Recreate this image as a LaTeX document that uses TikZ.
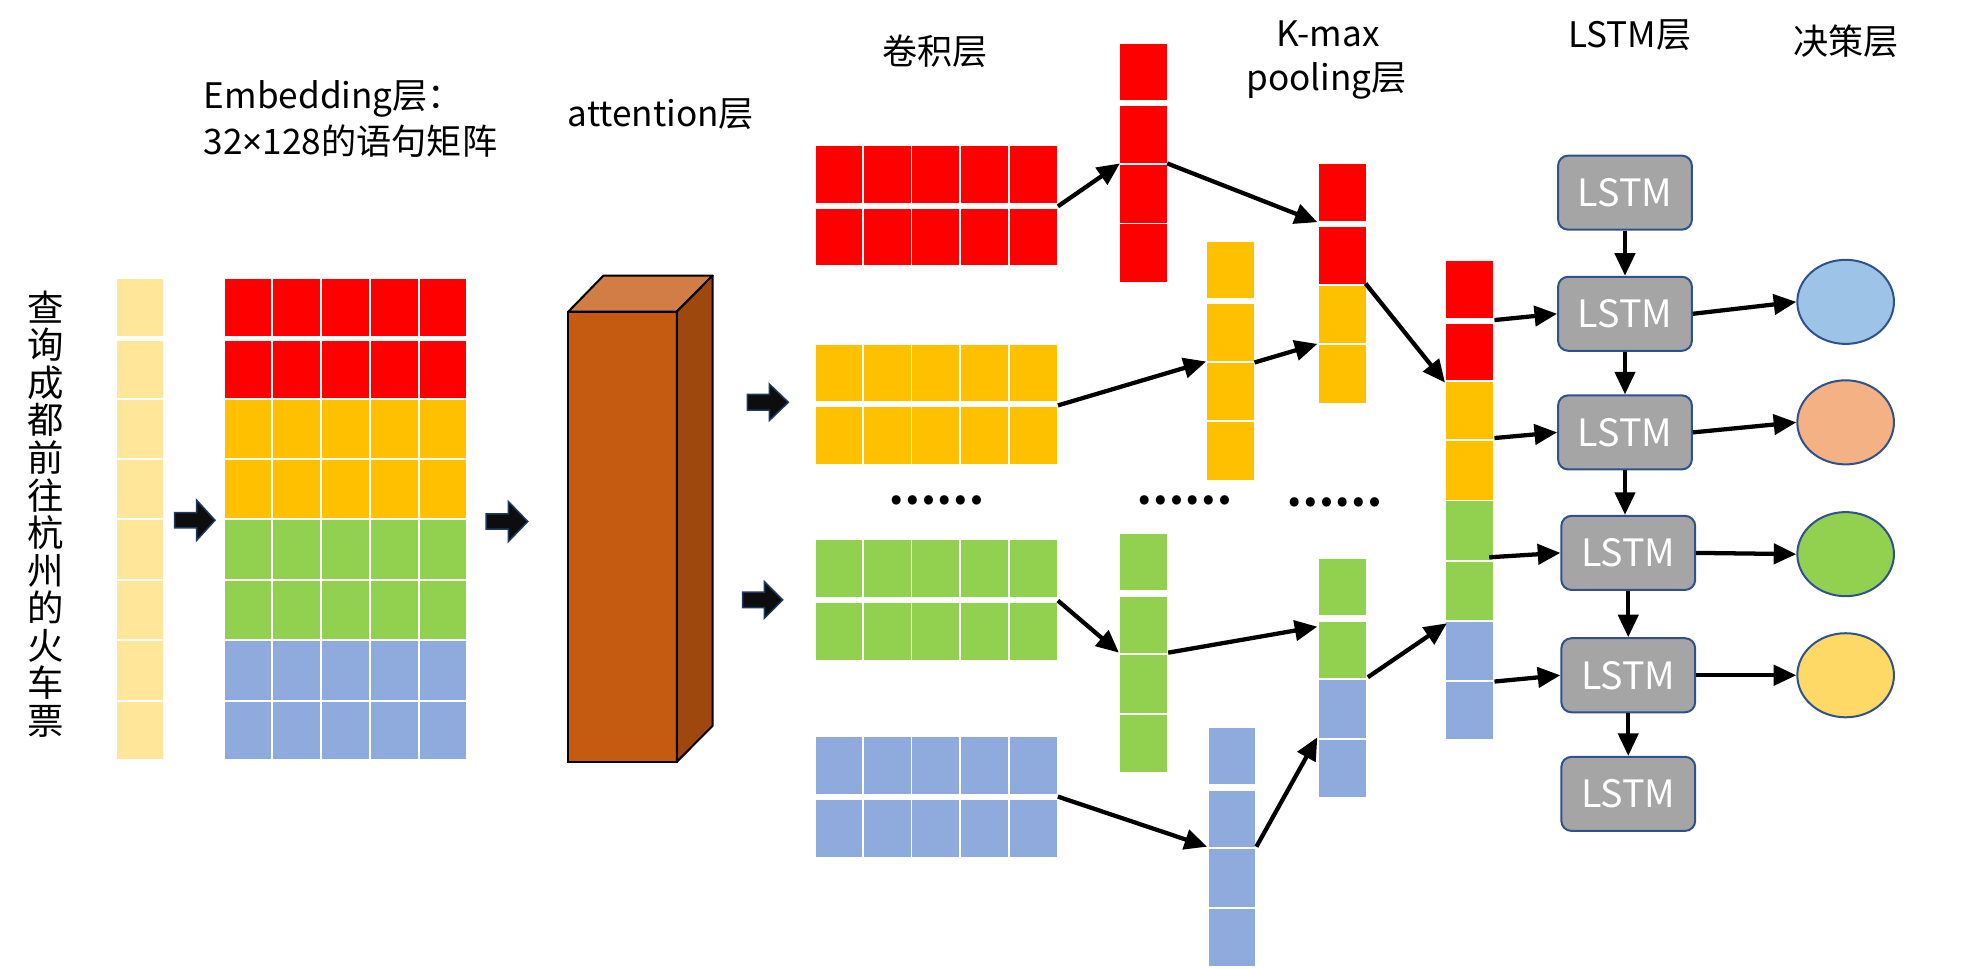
\documentclass[tikz,border=0pt]{standalone}
\usepackage{fontspec}
\setmainfont{Noto Sans CJK SC}
\newfontfamily\latinfont{Noto Sans}
\usetikzlibrary{arrows.meta,shapes.geometric}

\definecolor{cred}{HTML}{FF0000}
\definecolor{cgold}{HTML}{FFC000}
\definecolor{cgreen}{HTML}{92D050}
\definecolor{cblue}{HTML}{8FAADC}
\definecolor{cyel}{HTML}{FFE699}
\definecolor{attfront}{HTML}{C55A11}
\definecolor{atttop}{HTML}{D17D45}
\definecolor{attside}{HTML}{9E480E}
\definecolor{lstmgray}{HTML}{A5A5A5}
\definecolor{navy}{HTML}{2F528F}
\definecolor{arrowedge}{HTML}{203864}
\definecolor{ell1}{HTML}{9DC3E6}
\definecolor{ell2}{HTML}{F4B183}
\definecolor{ell3}{HTML}{92D050}
\definecolor{ell4}{HTML}{FFD966}

\newcommand{\vfour}[6]{%
  \fill[#3] (#1,#2) rectangle ++(37,45);
  \fill[#4] (#1,#2+50) rectangle ++(37,45);
  \fill[#5] (#1,#2+96.5) rectangle ++(37,46);
  \fill[#6] (#1,#2+144) rectangle ++(37,46);}
\newcommand{\blockarrow}[6]{%
  \filldraw[barrow] (#1,#4-#5) -- (#2,#4-#5) -- (#2,#4-#6) -- (#3,#4) -- (#2,#4+#6) -- (#2,#4+#5) -- (#1,#4+#5) -- cycle;}

\begin{document}
\begin{tikzpicture}[x=0.5pt,y=-0.5pt,
  lbl/.style={inner sep=0pt, font=\fontsize{14pt}{16pt}\selectfont},
  vtxt/.style={inner sep=0pt, align=center, font=\fontsize{14.5pt}{14.95pt}\selectfont},
  dots/.style={inner sep=0pt, font=\bfseries\fontsize{17pt}{18pt}\selectfont},
  conn/.style={-{Triangle[length=9pt,width=8pt]}, line width=1.7pt, black},
  barrow/.style={fill=black!95, draw=arrowedge, line width=0.6pt, line join=miter},
  lstm/.style={rectangle, rounded corners=4pt, fill=lstmgray, draw=navy, line width=0.8pt,
    minimum width=53.3pt, minimum height=29.5pt, inner sep=0pt, text=white,
    font=\fontsize{15pt}{16pt}\selectfont},
  dec/.style={ellipse, draw=navy, line width=0.8pt, minimum width=38.5pt, minimum height=33.5pt, inner sep=0pt}
]
\useasboundingbox (0,0) rectangle (1568,773);

% ---------- titles ----------
\node[lbl, anchor=base west] (embT1) at (162,86.5) {Embedding层：};
\node[lbl, anchor=base west] (embT2) at (162,123) {32{\latinfont ×}128的语句矩阵};
\node[lbl, anchor=base west] (attT) at (452,101) {attention层};
\node[lbl] (convT) at (745,41) {卷积层};
\node[lbl, anchor=base] (kmT1) at (1058,37) {K-max};
\node[lbl, anchor=base] (kmT2) at (1057,72) {pooling层};
\node[lbl] (lstmT) at (1298.5,28) {LSTM层};
\node[lbl] (decT) at (1470.7,32.5) {决策层};

% ---------- input sentence ----------
\node[vtxt] (query) at (36.3,409.5) {查\\询\\成\\都\\前\\往\\杭\\州\\的\\火\\车\\票};

% ---------- yellow word column and embedding matrix ----------
\foreach \ya/\yb/\c in {222/268/cred, 271.5/317/cred, 318.5/365/cgold, 366.5/413/cgold,
                        414.5/461/cgreen, 463/509.5/cgreen, 511/557.5/cblue, 559/605/cblue}{
  \fill[cyel] (93,\ya) rectangle (130,\yb);
  \foreach \xa/\xb in {179/216, 217.5/255, 256.5/294, 295.5/333, 334.5/371}{
    \fill[\c] (\xa,\ya) rectangle (\xb,\yb);
  }
}

% ---------- block arrows ----------
\blockarrow{139.2}{156.7}{171.3}{414.5}{6}{16}
\blockarrow{387.4}{405}{420.5}{415.5}{6}{16}
\blockarrow{595.4}{612.9}{628.1}{320.5}{6.2}{14.6}
\blockarrow{591.7}{609}{623.6}{478}{6.2}{14.6}

% ---------- attention box ----------
\filldraw[fill=attfront, draw=black, line width=0.8pt] (452.8,248.3) rectangle (539.2,607);
\filldraw[fill=atttop, draw=black, line width=0.8pt, line join=round]
  (452.8,248.3) -- (480.8,219.6) -- (567.8,219.6) -- (539.2,248.3) -- cycle;
\filldraw[fill=attside, draw=black, line width=0.8pt, line join=round]
  (539.2,248.3) -- (567.8,219.6) -- (567.8,578.3) -- (539.2,607) -- cycle;

% ---------- convolution maps ----------
\foreach \t/\c in {116.5/cred, 274.5/cgold, 430.5/cgreen, 587.5/cblue}{
  \foreach \xa/\xb in {650/686.5, 688/725.5, 727/764, 766/803.5, 805/842}{
    \fill[\c] (\xa,\t) rectangle (\xb,{\t+45.3});
    \fill[\c] (\xa,{\t+50}) rectangle (\xb,{\t+95});
  }
}
\node[dots] (dots1) at (746,399) {……};
\node[dots] (dots2) at (944,399) {……};
\node[dots] (dots3) at (1063,400) {……};

% ---------- feature vectors ----------
\vfour{892.5}{34.8}{cred}{cred}{cred}{cred}
\vfour{962}{192.5}{cgold}{cgold}{cgold}{cgold}
\vfour{892.5}{425.4}{cgreen}{cgreen}{cgreen}{cgreen}
\vfour{963}{580}{cblue}{cblue}{cblue}{cblue}
% k-max pooling
\vfour{1051}{131}{cred}{cred}{cgold}{cgold}
\vfour{1051}{445.3}{cgreen}{cgreen}{cblue}{cblue}
% concatenated
\foreach \ya/\yb/\c in {208/253/cred, 258/302.5/cred, 304/350/cgold, 351.5/398/cgold,
                        399.5/446/cgreen, 447.5/494/cgreen, 495.5/541.5/cblue, 543/589/cblue}{
  \fill[\c] (1152,\ya) rectangle (1189.5,\yb);
}

% ---------- connector end points ----------
\coordinate (rc) at (842.9,164.4);   \coordinate (rv) at (892.3,130.2);
\coordinate (rvo) at (930,130.2);    \coordinate (k1a) at (1049.6,177);
\coordinate (gc) at (842.9,323);     \coordinate (gv) at (961,288);
\coordinate (gvo) at (999.5,288.8);  \coordinate (k1b) at (1049.6,274);
\coordinate (k1o) at (1088,225.9);   \coordinate (cc1) at (1151.3,304.8);
\coordinate (grc) at (842.9,478.5);  \coordinate (grv) at (891.5,520);
\coordinate (grvo) at (930.7,520);   \coordinate (k2a) at (1049.6,499.3);
\coordinate (bc) at (842.9,634.7);   \coordinate (bv) at (961.8,674.6);
\coordinate (bvo) at (1001,674.6);   \coordinate (k2b) at (1049.6,587.4);
\coordinate (k2o) at (1089.8,539.6); \coordinate (cc2) at (1152.8,496.6);
\coordinate (co1) at (1190.7,255);   \coordinate (co2) at (1190.7,349);
\coordinate (co3) at (1186.5,444);   \coordinate (co4) at (1190.7,543);

% ---------- LSTM layer ----------
\node[lstm] (L1) at (1294.7,153.5) {LSTM};
\node[lstm] (L2) at (1294.7,250) {LSTM};
\node[lstm] (L3) at (1294.7,344.5) {LSTM};
\node[lstm] (L4) at (1297.3,440.5) {LSTM};
\node[lstm] (L5) at (1297.3,538) {LSTM};
\node[lstm] (L6) at (1297.3,632.5) {LSTM};

% ---------- decision layer ----------
\node[dec, fill=ell1] (E1) at (1470.5,240.5) {};
\node[dec, fill=ell2] (E2) at (1470.5,336.5) {};
\node[dec, fill=ell3] (E3) at (1470.5,441.5) {};
\node[dec, fill=ell4] (E4) at (1470.5,538) {};

% ---------- connectors ----------
\draw[conn] (rc) -- (rv);
\draw[conn] (rvo) -- (k1a);
\draw[conn] (gc) -- (gv);
\draw[conn] (gvo) -- (k1b);
\draw[conn] (k1o) -- (cc1);
\draw[conn] (grc) -- (grv);
\draw[conn] (grvo) -- (k2a);
\draw[conn] (bc) -- (bv);
\draw[conn] (bvo) -- (k2b);
\draw[conn] (k2o) -- (cc2);

\draw[conn] (co1) -- (L2.west);
\draw[conn] (co2) -- (L3.west);
\draw[conn] (co3) -- (L4.west);
\draw[conn] (co4) -- (L5.west);

\draw[conn] (L1.south) -- (L2.north);
\draw[conn] (L2.south) -- (L3.north);
\draw[conn] (L3.south) -- (L3.south |- L4.north);
\draw[conn] (L4.south) -- (L5.north);
\draw[conn] (L5.south) -- (L6.north);

\draw[conn] (L2.east) -- (E1.west);
\draw[conn] (L3.east) -- (E2.west);
\draw[conn] (L4.east) -- (E3.west);
\draw[conn] (L5.east) -- (E4.west);
\end{tikzpicture}
\end{document}
